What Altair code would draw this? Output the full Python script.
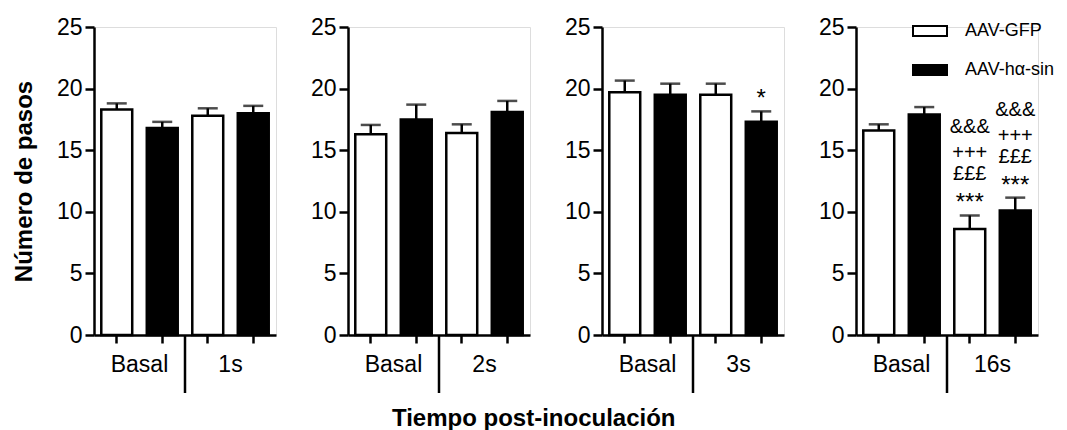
import altair as alt
import pandas as pd

# ---- data ----
times = ["1s", "2s", "3s", "16s"]
groups = ["AAV-GFP", "AAV-hα-sin"]
basal_label = "Basal"

basal_gfp_mean = [18.3, 16.3, 19.7, 16.6]
basal_gfp_sem = [0.5, 0.75, 0.95, 0.5]
basal_syn_mean = [16.8, 17.5, 19.5, 17.9]
basal_syn_sem = [0.5, 1.2, 0.9, 0.6]
post_gfp_mean = [17.8, 16.4, 19.5, 8.6]
post_gfp_sem = [0.6, 0.7, 0.9, 1.1]
post_syn_mean = [18.0, 18.1, 17.3, 10.1]
post_syn_sem = [0.6, 0.9, 0.85, 1.05]
# significance marks above each post-inoculation bar, listed top line first
post_gfp_note = [[], [], [], ["&&&", "+++", "£££", "***"]]
post_syn_note = [[], [], ["*"], ["&&&", "+++", "£££", "***"]]

y_ticks = [0, 5, 10, 15, 20, 25]

# ---- styling ----
FONT = "Liberation Sans"
W, H = 182, 308
NOTE_DY = [-5, -35, -56, -82]     # baseline offset of note lines, bottom line first
NOTE_SIZE = [24, 20, 20, 20]      # font size of note lines, bottom line first


def panel(i, first, last):
    t = times[i]
    df = pd.DataFrame({
        "time": [basal_label, basal_label, t, t],
        "group": [groups[0], groups[1], groups[0], groups[1]],
        "mean": [basal_gfp_mean[i], basal_syn_mean[i], post_gfp_mean[i], post_syn_mean[i]],
        "sem": [basal_gfp_sem[i], basal_syn_sem[i], post_gfp_sem[i], post_syn_sem[i]],
    })
    df["slot"] = df["time"] + " | " + df["group"]
    order = list(df["slot"])

    # one row per note line, k = 0 for the bottom line
    note_rows = []
    for slot, m, s, lines in zip(order[2:], df["mean"][2:], df["sem"][2:],
                                 [post_gfp_note[i], post_syn_note[i]]):
        for k, line in enumerate(reversed(lines)):
            note_rows.append({"slot": slot, "mean": m, "sem": s, "line": line, "k": k})
    ndf = pd.DataFrame(note_rows, columns=["slot", "mean", "sem", "line", "k"])

    xband = alt.X(
        "slot:N",
        sort=order,
        scale=alt.Scale(domain=order, paddingInner=0.32, paddingOuter=0.16),
        axis=alt.Axis(labels=False, title=None, ticks=True, tickSize=8, tickWidth=2.5,
                      tickColor="black", domainColor="black", domainWidth=2.5, grid=False),
    )
    yaxis = dict(values=y_ticks, tickSize=9, tickWidth=2.5, tickColor="black",
                 domainColor="black", domainWidth=2.5, grid=False, labelFont=FONT,
                 labelFontSize=23, labelColor="black", labelPadding=3)
    if first:
        yaxis.update(title="Número de pasos", titleFont=FONT, titleFontSize=24,
                     titleFontWeight="bold", titleColor="black", titlePadding=20)
    else:
        yaxis.update(title=None)
    ymean = alt.Y("mean:Q", scale=alt.Scale(domain=[0, 25], nice=False),
                  axis=alt.Axis(**yaxis))

    if last:
        legend = alt.Legend(title=None, orient="none", legendX=56, legendY=-14,
                            symbolType="M-1,-0.3H1V0.3H-1Z", symbolSize=1156,
                            symbolStrokeColor="black", symbolStrokeWidth=2,
                            labelFont=FONT, labelFontSize=18, labelColor="black",
                            labelOffset=17, rowPadding=11, padding=0)
    else:
        legend = None
    fill = alt.Fill("group:N", scale=alt.Scale(domain=groups, range=["white", "black"]),
                    legend=legend)

    base = alt.Chart(df).transform_calculate(top="datum.mean + datum.sem")
    bars = base.mark_bar(stroke="black", strokeWidth=2.5).encode(x=xband, y=ymean, fill=fill)
    err = base.mark_rule(color="black", strokeWidth=2.5).encode(
        x=xband, y="mean:Q", y2="top:Q")
    cap = base.mark_tick(color="black", orient="horizontal", size=20, thickness=2.5).encode(
        x=xband, y="top:Q")
    layers = [bars, err, cap]
    if len(ndf):
        nbase = alt.Chart(ndf).transform_calculate(top="datum.mean + datum.sem")
        for k, (dy, fs) in enumerate(zip(NOTE_DY, NOTE_SIZE)):
            if (ndf["k"] == k).any():
                layers.append(
                    nbase.transform_filter(f"datum.k == {k}").mark_text(
                        font=FONT, fontSize=fs, baseline="alphabetic", dy=dy,
                        color="black").encode(x=xband, y="top:Q", text="line:N"))

    gdf = pd.DataFrame({"gpos": [1, 3], "label": [basal_label, t]})
    ddf = pd.DataFrame({"gpos": [2]})
    xq = alt.X("gpos:Q", scale=alt.Scale(domain=[0, 4], nice=False, zero=False), axis=None)
    glabels = alt.Chart(gdf).mark_text(font=FONT, fontSize=23, color="black",
                                       baseline="middle").encode(
        x=xq, y=alt.value(H + 30), text="label:N")
    divider = alt.Chart(ddf).mark_rule(color="black", strokeWidth=2.5).encode(
        x=xq, y=alt.value(H), y2=alt.value(H + 58))

    main = alt.layer(*layers)
    deco = alt.layer(glabels, divider)
    return alt.layer(main, deco).resolve_scale(x="independent").properties(width=W, height=H)


panels = [panel(i, i == 0, i == len(times) - 1) for i in range(len(times))]

chart = alt.hconcat(*panels, spacing=32).resolve_scale(fill="independent").properties(
    title=alt.TitleParams("Tiempo post-inoculación", orient="bottom", anchor="middle",
                          font=FONT, fontSize=24, fontWeight="bold", color="black",
                          offset=12),
    padding={"left": 3, "top": 4, "right": 0, "bottom": 0},
).configure_view(stroke=None).configure(background="white")

chart.save("out.html", embed_options={"renderer": "svg", "actions": False})
